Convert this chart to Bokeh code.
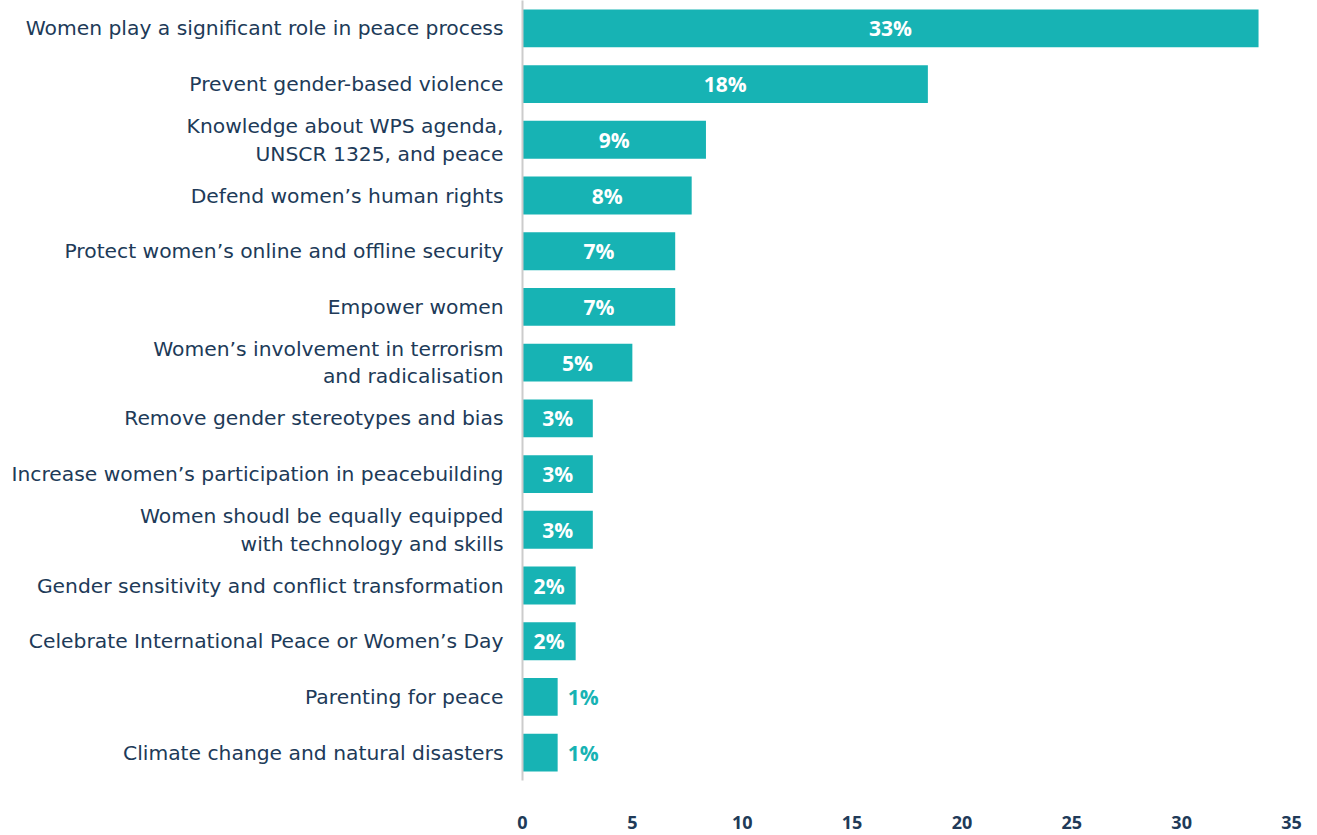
from bokeh.plotting import figure
from bokeh.models import FactorRange, Range1d, FixedTicker, ColumnDataSource
from bokeh.core.properties import value
from bokeh.embed import file_html
from bokeh.resources import INLINE

categories = [
    "Women play a significant role in peace process",
    "Prevent gender-based violence",
    "Knowledge about WPS agenda,\nUNSCR 1325, and peace",
    "Defend women’s human rights",
    "Protect women’s online and offline security",
    "Empower women",
    "Women’s involvement in terrorism\nand radicalisation",
    "Remove gender stereotypes and bias",
    "Increase women’s participation in peacebuilding",
    "Women shoudl be equally equipped\nwith technology and skills",
    "Gender sensitivity and conflict transformation",
    "Celebrate International Peace or Women’s Day",
    "Parenting for peace",
    "Climate change and natural disasters",
]
values = [33.5, 18.45, 8.35, 7.7, 6.95, 6.95, 5.0, 3.2, 3.2, 3.2, 2.42, 2.42, 1.6, 1.6]
labels = ["33%", "18%", "9%", "8%", "7%", "7%", "5%", "3%", "3%", "3%", "2%", "2%", "1%", "1%"]
x_ticks = [0, 5, 10, 15, 20, 25, 30, 35]

TEAL = "#17b3b4"
NAVY = "#203a58"
FONT = "Open Sans"
LABEL_FONT = "DejaVu Sans"

p = figure(
    width=1317, height=835,
    y_range=FactorRange(factors=list(reversed(categories)), range_padding=0),
    x_range=Range1d(0, 35),
    output_backend="svg", toolbar_location=None,
    min_border_left=522, min_border_right=26, min_border_top=0, min_border_bottom=55,
)
p.outline_line_color = None
p.xgrid.visible = False
p.ygrid.visible = False

src = ColumnDataSource(dict(cat=categories, val=values))
p.hbar(y="cat", left=0, right="val", height=0.68, source=src,
       fill_color=TEAL, line_color=None)

inside = [i for i, v in enumerate(values) if v >= 2]
outside = [i for i, v in enumerate(values) if v < 2]
src_in = ColumnDataSource(dict(
    cat=[categories[i] for i in inside],
    x=[values[i] / 2 for i in inside],
    lab=[labels[i] for i in inside]))
src_out = ColumnDataSource(dict(
    cat=[categories[i] for i in outside],
    x=[values[i] for i in outside],
    lab=[labels[i] for i in outside]))
p.text(x="x", y="cat", text="lab", source=src_in, text_align="center",
       text_baseline="middle", text_color="white", text_font=value(FONT),
       text_font_style="bold", text_font_size="21px")
p.text(x="x", y="cat", text="lab", source=src_out, text_align="left",
       text_baseline="middle", text_color=TEAL, text_font=value(FONT),
       text_font_style="bold", text_font_size="21px", x_offset=10)

ya = p.yaxis[0]
ya.axis_line_color = "#cccccc"
ya.axis_line_width = 2
ya.major_tick_line_color = None
ya.minor_tick_line_color = None
ya.major_label_standoff = 13
ya.major_label_text_font = LABEL_FONT
ya.major_label_text_font_size = "20.3px"
ya.major_label_text_color = NAVY
ya.major_label_text_line_height = 1.15

xa = p.xaxis[0]
xa.ticker = FixedTicker(ticks=x_ticks)
xa.axis_line_color = None
xa.major_tick_line_color = None
xa.minor_tick_line_color = None
xa.major_label_standoff = 29
xa.major_label_text_font = FONT
xa.major_label_text_font_style = "bold"
xa.major_label_text_font_size = "18px"
xa.major_label_text_color = NAVY

open("out.html", "w").write(file_html(p, INLINE))
